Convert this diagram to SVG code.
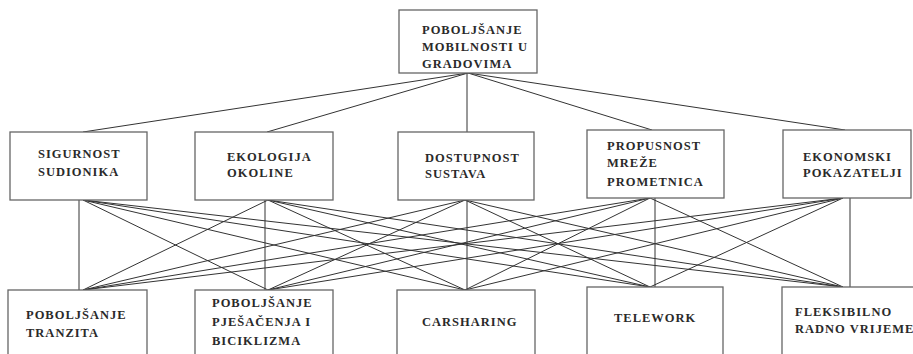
<svg xmlns="http://www.w3.org/2000/svg" width="913" height="354" viewBox="0 0 913 354">
<style>
.box{fill:#fff;stroke:#666;stroke-width:1.3}
.t{font-family:"Liberation Serif","Times New Roman",serif;font-weight:bold;font-size:12.5px;letter-spacing:1px;fill:#2a2a2a}
.c line{stroke:#333;stroke-width:1}
</style>
<rect width="913" height="354" fill="#fff"/>
<g id="connectors" class="c">
<line x1="468" y1="73" x2="83" y2="132"/>
<line x1="468" y1="73" x2="267" y2="132"/>
<line x1="467" y1="73" x2="467" y2="132"/>
<line x1="468" y1="73" x2="652" y2="130"/>
<line x1="468" y1="73" x2="845" y2="130"/>
<line x1="79" y1="200" x2="79" y2="290"/>
<line x1="265" y1="200" x2="265" y2="290"/>
<line x1="467" y1="200" x2="467" y2="290"/>
<line x1="655" y1="198" x2="655" y2="287"/>
<line x1="850" y1="198" x2="850" y2="287"/>
<line x1="83" y1="200" x2="268" y2="290"/>
<line x1="83" y1="200" x2="465" y2="290"/>
<line x1="83" y1="200" x2="650" y2="287"/>
<line x1="83" y1="200" x2="843" y2="287"/>
<line x1="268" y1="200" x2="83" y2="290"/>
<line x1="268" y1="200" x2="465" y2="290"/>
<line x1="268" y1="200" x2="650" y2="287"/>
<line x1="268" y1="200" x2="843" y2="287"/>
<line x1="465" y1="200" x2="83" y2="290"/>
<line x1="465" y1="200" x2="268" y2="290"/>
<line x1="465" y1="200" x2="650" y2="287"/>
<line x1="465" y1="200" x2="843" y2="287"/>
<line x1="650" y1="198" x2="83" y2="290"/>
<line x1="650" y1="198" x2="268" y2="290"/>
<line x1="650" y1="198" x2="465" y2="290"/>
<line x1="650" y1="198" x2="843" y2="287"/>
<line x1="843" y1="198" x2="83" y2="290"/>
<line x1="843" y1="198" x2="268" y2="290"/>
<line x1="843" y1="198" x2="465" y2="290"/>
<line x1="843" y1="198" x2="650" y2="287"/>
</g>
<g id="goal">
<rect class="box" x="399" y="10" width="138" height="63"/>
<text class="t" x="422" y="34">POBOLJŠANJE</text>
<text class="t" x="422" y="51">MOBILNOSTI U</text>
<text class="t" x="422" y="68">GRADOVIMA</text>
</g>
<g id="sigurnost">
<rect class="box" x="10" y="132" width="137" height="68"/>
<text class="t" x="38" y="158">SIGURNOST</text>
<text class="t" x="38" y="176">SUDIONIKA</text>
</g>
<g id="ekologija">
<rect class="box" x="195" y="132" width="138" height="68"/>
<text class="t" x="227" y="161">EKOLOGIJA</text>
<text class="t" x="227" y="177">OKOLINE</text>
</g>
<g id="dostupnost">
<rect class="box" x="398" y="132" width="136" height="68"/>
<text class="t" x="425" y="162">DOSTUPNOST</text>
<text class="t" x="425" y="178">SUSTAVA</text>
</g>
<g id="propusnost">
<rect class="box" x="587" y="130" width="137" height="68"/>
<text class="t" x="607" y="150">PROPUSNOST</text>
<text class="t" x="607" y="167">MREŽE</text>
<text class="t" x="607" y="186">PROMETNICA</text>
</g>
<g id="ekonomski">
<rect class="box" x="783" y="130" width="128" height="68"/>
<text class="t" x="803" y="161">EKONOMSKI</text>
<text class="t" x="803" y="177">POKAZATELJI</text>
</g>
<g id="tranzit">
<rect class="box" x="8" y="290" width="139" height="80"/>
<text class="t" x="26" y="319">POBOLJŠANJE</text>
<text class="t" x="26" y="337">TRANZITA</text>
</g>
<g id="pjesacenje">
<rect class="box" x="195" y="290" width="138" height="80"/>
<text class="t" x="212" y="307">POBOLJŠANJE</text>
<text class="t" x="212" y="326">PJEŠAČENJA I</text>
<text class="t" x="212" y="345">BICIKLIZMA</text>
</g>
<g id="carsharing">
<rect class="box" x="397" y="290" width="138" height="80"/>
<text class="t" x="422" y="326">CARSHARING</text>
</g>
<g id="telework">
<rect class="box" x="587" y="287" width="136" height="80"/>
<text class="t" x="614" y="322">TELEWORK</text>
</g>
<g id="fleksibilno">
<rect class="box" x="782" y="287" width="140" height="80"/>
<text class="t" x="795" y="316">FLEKSIBILNO</text>
<text class="t" x="795" y="333">RADNO VRIJEME</text>
</g>
</svg>
